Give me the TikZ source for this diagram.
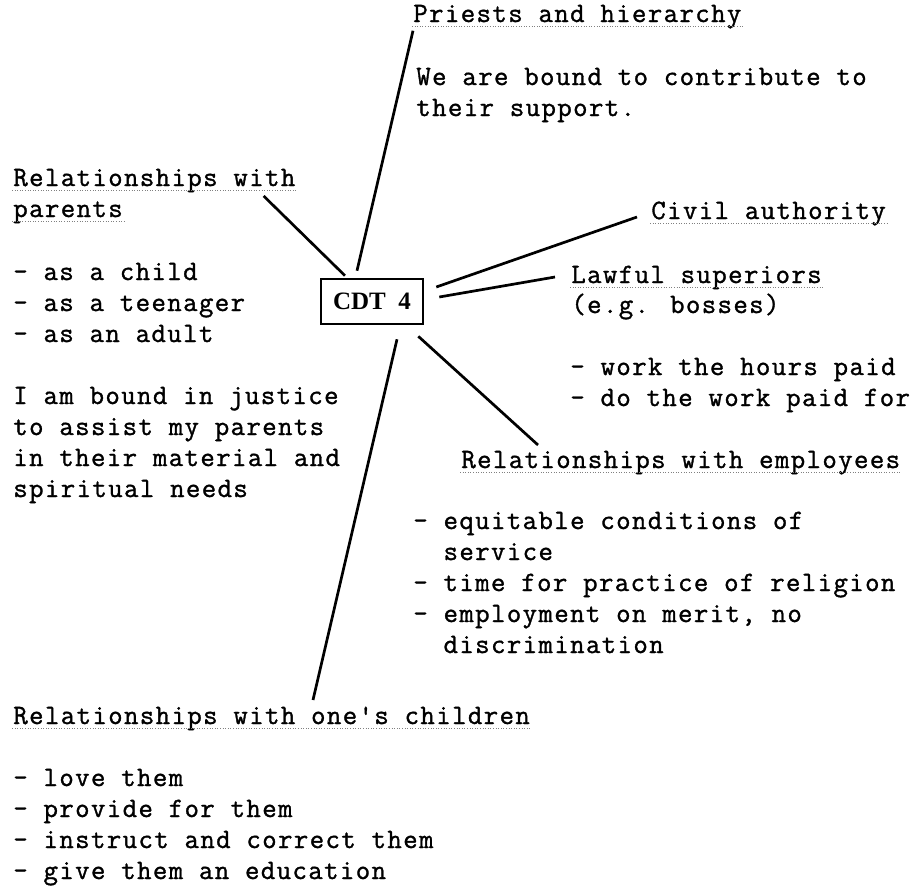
\documentclass[tikz,border=0pt]{standalone}
\usepackage{fontspec}
\setmainfont{Liberation Serif}
\newfontfamily\typewriter[LetterSpace=5,FakeBold=1.2]{Latin Modern Mono}

\begin{document}
\begin{tikzpicture}[x=1pt, y=-1pt, line width=2.7pt,
    text node/.style={font=\typewriter\fontsize{28pt}{31pt}\selectfont, inner sep=0pt, anchor=base west, align=left},
    box node/.style={draw, line width=2.6pt, minimum width=102pt, minimum height=45pt, inner sep=0pt, font=\bfseries\fontsize{25pt}{25pt}\selectfont},
    under/.style={gray, line width=0.8pt, dash pattern=on 0.8pt off 1.8pt}]
  \useasboundingbox (0,0) rectangle (922,887);

  \node[box node] (cdt) at (372,301.5) {CDT\ \ 4};

  % headings
  \node[text node] (priests) at (412,22) {Priests and hierarchy};
  \node[text node] (parents1) at (12,186) {Relationships with};
  \node[text node] (parents2) at (12,217) {parents};
  \node[text node] (civil) at (650,219) {Civil authority};
  \node[text node] (lawful) at (570,283) {Lawful superiors};
  \node[text node] (employees) at (460,468) {Relationships with employees};
  \node[text node] (children) at (12,724) {Relationships with one{\char"27}s children};

  % texts under the headings (placed by their last line)
  \node[text node] (support) at (415,116) {We are bound to contribute to\\their support.};
  \node[text node] (ages) at (12,342) {- as a child\\- as a teenager\\- as an adult};
  \node[text node] (justice) at (12,497) {I am bound in justice\\to assist my parents\\in their material and\\spiritual needs};
  \node[text node] (bosses) at (570,313) {(e.g. bosses)};
  \node[text node] (work) at (569,406) {- work the hours paid\\- do the work paid for};
  \node[text node] (service) at (412,653) {- equitable conditions of\\\hphantom{- }service\\- time for practice of religion\\- employment on merit, no\\\hphantom{- }discrimination};
  \node[text node] (care) at (12,879) {- love them\\- provide for them\\- instruct and correct them\\- give them an education};

  \foreach \n in {priests,parents1,parents2,civil,lawful,employees,children}
    \draw[under] ([yshift=-4pt]\n.base west) -- ([yshift=-4pt]\n.base east);

  \draw ([xshift=-15pt,yshift=7pt]cdt.north) -- ([xshift=1pt,yshift=-1pt]priests.south west);
  \draw ([xshift=-27pt,yshift=2pt]cdt.north) -- ([xshift=-33pt,yshift=-10pt]parents1.base east);
  \draw ([xshift=12pt,yshift=14.5pt]cdt.east) -- ([xshift=-13pt,yshift=2pt]civil.base west);
  \draw ([xshift=15pt,yshift=4.5pt]cdt.east) -- ([xshift=-15pt,yshift=6pt]lawful.base west);
  \draw ([xshift=-6pt,yshift=-11pt]cdt.south east) -- ([xshift=78pt,yshift=23pt]employees.base west);
  \draw ([xshift=25pt,yshift=-14pt]cdt.south) -- ([xshift=301pt,yshift=24pt]children.base west);
\end{tikzpicture}
\end{document}
